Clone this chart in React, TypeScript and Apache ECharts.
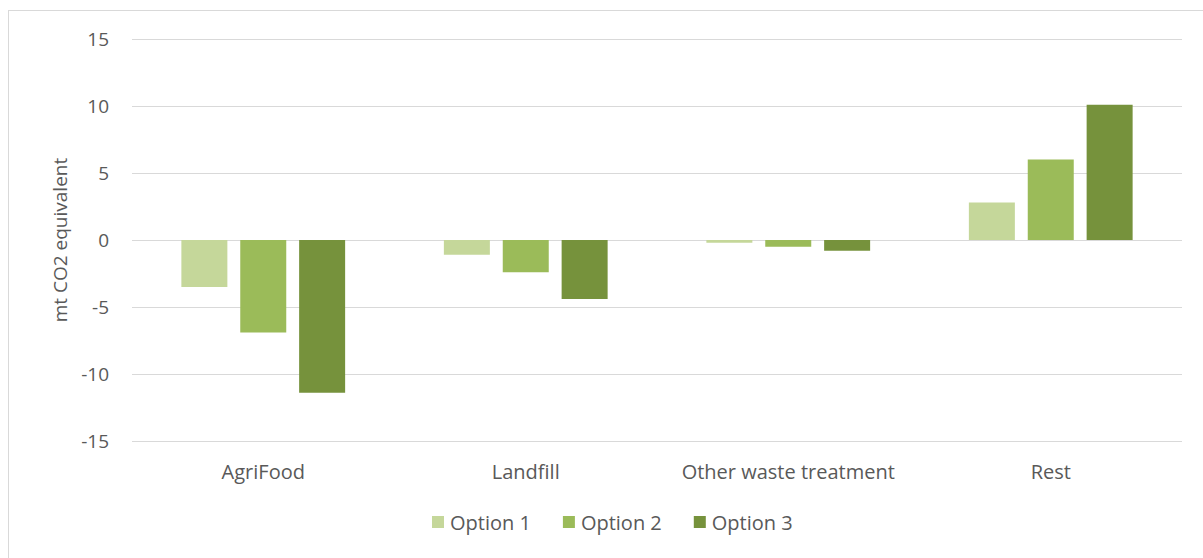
import React, { useEffect, useRef } from "react";
import * as echarts from "echarts";

const categories = ["AgriFood", "Landfill", "Other waste treatment", "Rest"];
const option1 = [-3.5, -1.1, -0.2, 2.8];
const option2 = [-6.9, -2.4, -0.5, 6.0];
const option3 = [-11.4, -4.4, -0.8, 10.1];
const seriesNames = ["Option 1", "Option 2", "Option 3"];
const colors = ["#c5d79a", "#9bbb59", "#76923c"];

const FONT = "'Open Sans', sans-serif";
const TEXT = "#595959";

export default function App() {
  const ref = useRef<HTMLDivElement>(null);
  useEffect(() => {
    if (!ref.current) return;
    const chart = echarts.init(ref.current, null, { renderer: "svg" });
    const data = [option1, option2, option3];
    chart.setOption({
      animation: false,
      textStyle: { fontFamily: FONT, color: TEXT },
      grid: { left: 132, right: 21, top: 39, bottom: 117, containLabel: false },
      legend: {
        bottom: 21,
        left: 427,
        itemWidth: 12,
        itemHeight: 12,
        itemGap: 32,
        icon: "rect",
        textStyle: { fontFamily: FONT, fontSize: 20, color: TEXT, padding: [0, 0, 0, 1] },
        data: seriesNames,
      },
      xAxis: {
        type: "category",
        data: categories,
        axisLine: { show: false, onZero: false },
        axisTick: { show: false },
        axisLabel: { fontFamily: FONT, fontSize: 20, color: TEXT, margin: 20, interval: 0 },
      },
      yAxis: {
        type: "value",
        min: -15,
        max: 15,
        interval: 5,
        name: "mt CO2 equivalent",
        nameLocation: "middle",
        nameGap: 63,
        nameTextStyle: { fontFamily: FONT, fontSize: 19, color: TEXT },
        axisLine: { show: false },
        axisTick: { show: false },
        axisLabel: { fontFamily: FONT, fontSize: 19, color: TEXT, margin: 23 },
        splitLine: { lineStyle: { color: "#d9d9d9", width: 1 } },
      },
      series: seriesNames.map((name, i) => ({
        name,
        type: "bar",
        data: data[i],
        barWidth: 46,
        barGap: "28%",
        itemStyle: { color: colors[i] },
      })),
    });
    return () => chart.dispose();
  }, []);
  return (
    <div style={{ position: "fixed", left: 0, top: 0, width: 1203, height: 558, overflow: "hidden", background: "#fff" }}>
      <div
        style={{
          position: "absolute",
          left: 8,
          top: 10,
          width: 1200,
          height: 560,
          border: "1px solid #d9d9d9",
          boxSizing: "border-box",
        }}
      />
      <div ref={ref} style={{ position: "absolute", left: 0, top: 0, width: 1203, height: 558 }} />
    </div>
  );
}
